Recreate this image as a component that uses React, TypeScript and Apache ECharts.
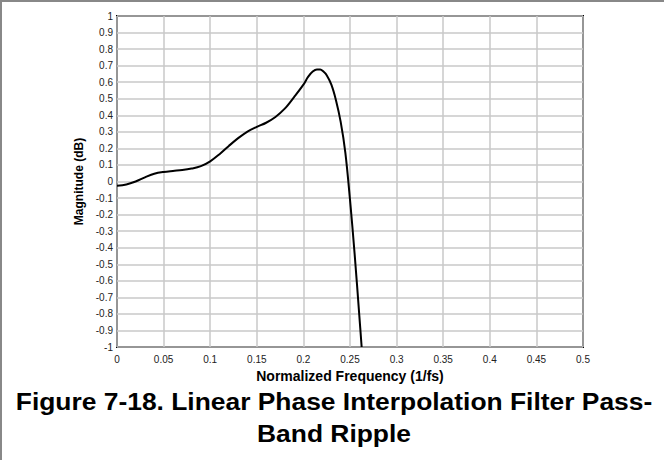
import React, { useEffect, useRef } from "react";
import * as echarts from "echarts";

const frequency = [
  0, 0.01, 0.02, 0.03, 0.04, 0.05, 0.06, 0.07, 0.08, 0.09, 0.1, 0.11, 0.12, 0.13, 0.14, 0.15,
  0.16, 0.17, 0.18, 0.19, 0.2, 0.205, 0.21, 0.2145, 0.218, 0.2215, 0.225, 0.23, 0.235, 0.24,
  0.245, 0.25, 0.255, 0.26, 0.2625,
];
const magnitude = [
  -0.025, -0.018, 0.0, 0.025, 0.047, 0.058, 0.064, 0.069, 0.078, 0.093, 0.122, 0.165, 0.215,
  0.262, 0.302, 0.33, 0.355, 0.39, 0.44, 0.51, 0.585, 0.632, 0.664, 0.677, 0.677, 0.664, 0.642,
  0.585, 0.49, 0.36, 0.175, -0.11, -0.44, -0.81, -1.0,
];
const xTicks = { min: 0, max: 0.5, interval: 0.05 };
const yTicks = { min: -1, max: 1, interval: 0.1 };
const xAxisTitle = "Normalized Frequency (1/fs)";
const yAxisTitle = "Magnitude (dB)";
const captionLines = ["Figure 7-18. Linear Phase Interpolation Filter Pass-", "Band Ripple"];

const fmt = (v: number) => {
  const r = +v.toFixed(2);
  return r === 0 ? "0" : String(r);
};

export default function App() {
  const ref = useRef<HTMLDivElement>(null);
  useEffect(() => {
    document.body.style.margin = "0";
    const chart = echarts.init(ref.current!, null, { renderer: "svg" });
    const data = frequency.map((f, i) => [f, magnitude[i]]);
    const captionY = [401, 433];
    chart.setOption({
      animation: false,
      backgroundColor: "#fff",
      textStyle: { fontFamily: "Liberation Sans, Arial, sans-serif" },
      grid: {
        left: 117,
        top: 16,
        width: 466,
        height: 331,
        show: true,
        borderColor: "#000",
        borderWidth: 2,
        backgroundColor: "transparent",
      },
      xAxis: {
        type: "value",
        min: xTicks.min,
        max: xTicks.max,
        interval: xTicks.interval,
        name: xAxisTitle,
        nameLocation: "middle",
        nameGap: 17,
        nameTextStyle: { fontSize: 14, fontWeight: "bold", color: "#000" },
        axisLine: { show: false },
        axisTick: { show: false },
        axisLabel: { fontSize: 10, color: "#222", margin: 7, formatter: fmt },
        splitLine: { show: true, lineStyle: { color: "#c8c8c8", width: 1.5 } },
      },
      yAxis: {
        type: "value",
        min: yTicks.min,
        max: yTicks.max,
        interval: yTicks.interval,
        name: yAxisTitle,
        nameLocation: "middle",
        nameGap: 30,
        nameTextStyle: { fontSize: 12, fontWeight: "bold", color: "#000" },
        axisLine: { show: false },
        axisTick: { show: false },
        axisLabel: { fontSize: 10, color: "#222", margin: 4, formatter: fmt },
        splitLine: { show: true, lineStyle: { color: "#c8c8c8", width: 1.5 } },
      },
      series: [
        {
          type: "line",
          data,
          showSymbol: false,
          smooth: 0.35,
          lineStyle: { color: "#000", width: 2 },
          z: 5,
        },
      ],
      graphic: [
        { type: "rect", shape: { x: 0, y: 0, width: 664, height: 2 }, style: { fill: "#888" }, silent: true },
        { type: "rect", shape: { x: 0, y: 0, width: 2, height: 460 }, style: { fill: "#888" }, silent: true },
        ...captionLines.map((t, i) => ({
          type: "text",
          x: 334,
          y: captionY[i],
          scaleX: 1.1,
          silent: true,
          style: {
            text: t,
            font: "bold 24px 'Liberation Sans', Arial, sans-serif",
            fill: "#000",
            align: "center",
            verticalAlign: "middle",
          },
        })),
      ],
    });
    return () => chart.dispose();
  }, []);
  return <div ref={ref} style={{ width: 664, height: 460 }} />;
}
